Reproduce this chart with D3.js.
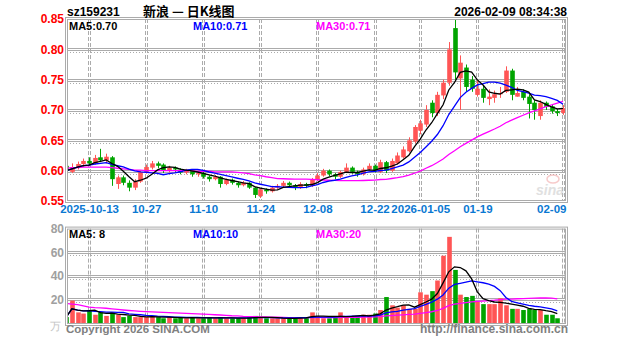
<!DOCTYPE html>
<html>
<head>
<meta charset="utf-8">
<script src="https://cdn.jsdelivr.net/npm/d3@7"></script>
<style>
  body { margin: 0; background: #fff; }
  svg { display: block; }
  text { font-family: "Liberation Sans", Arial, sans-serif; }
</style>
</head>
<body>
<svg id="chart" width="627" height="342"></svg>
<script>
// Trading days shown in the daily K-line window
const dates = [
  "2025-09-29","2025-09-30","2025-10-09","2025-10-10",
  "2025-10-13","2025-10-14","2025-10-15","2025-10-16","2025-10-17",
  "2025-10-20","2025-10-21","2025-10-22","2025-10-23","2025-10-24",
  "2025-10-27","2025-10-28","2025-10-29","2025-10-30","2025-10-31",
  "2025-11-03","2025-11-04","2025-11-05","2025-11-06","2025-11-07",
  "2025-11-10","2025-11-11","2025-11-12","2025-11-13","2025-11-14",
  "2025-11-17","2025-11-18","2025-11-19","2025-11-20","2025-11-21",
  "2025-11-24","2025-11-25","2025-11-26","2025-11-27","2025-11-28",
  "2025-12-01","2025-12-02","2025-12-03","2025-12-04","2025-12-05",
  "2025-12-08","2025-12-09","2025-12-10","2025-12-11","2025-12-12",
  "2025-12-15","2025-12-16","2025-12-17","2025-12-18","2025-12-19",
  "2025-12-22","2025-12-23","2025-12-24","2025-12-25","2025-12-26",
  "2025-12-29","2025-12-30","2025-12-31",
  "2026-01-05","2026-01-06","2026-01-07","2026-01-08","2026-01-09",
  "2026-01-12","2026-01-13","2026-01-14","2026-01-15","2026-01-16",
  "2026-01-19","2026-01-20","2026-01-21","2026-01-22","2026-01-23",
  "2026-01-26","2026-01-27","2026-01-28","2026-01-29","2026-01-30",
  "2026-02-02","2026-02-03","2026-02-04","2026-02-05","2026-02-06",
  "2026-02-09"
];

const opens = [
  0.608,0.598,0.606,0.611,
  0.616,0.612,0.622,0.617,0.622,
  0.578,0.589,0.580,0.572,0.582,
  0.598,0.605,0.612,0.610,0.600,
  0.605,0.602,0.597,0.600,0.594,
  0.596,0.590,0.586,0.590,0.578,
  0.585,0.580,0.576,0.580,0.572,
  0.558,0.569,0.566,0.572,0.575,
  0.580,0.576,0.572,0.578,0.575,
  0.585,0.592,0.600,0.594,0.590,
  0.598,0.605,0.598,0.594,0.602,
  0.608,0.598,0.614,0.600,0.612,
  0.622,0.632,0.648,
  0.666,0.676,0.712,0.695,0.724,
  0.745,0.835,0.752,0.770,0.750,
  0.725,0.735,0.718,0.720,0.726,
  0.730,0.765,0.722,0.730,0.722,
  0.712,0.690,0.712,0.706,0.698,
  0.695
];
const highs = [
  0.610,0.612,0.615,0.620,
  0.622,0.626,0.636,0.628,0.624,
  0.592,0.592,0.584,0.586,0.600,
  0.610,0.616,0.615,0.612,0.608,
  0.607,0.604,0.603,0.601,0.599,
  0.598,0.592,0.593,0.591,0.587,
  0.587,0.582,0.583,0.581,0.573,
  0.571,0.571,0.575,0.578,0.583,
  0.582,0.578,0.581,0.580,0.588,
  0.596,0.603,0.602,0.596,0.600,
  0.612,0.607,0.600,0.605,0.612,
  0.610,0.618,0.616,0.620,0.630,
  0.640,0.655,0.675,
  0.684,0.708,0.716,0.730,0.750,
  0.812,0.850,0.790,0.775,0.756,
  0.748,0.740,0.734,0.732,0.738,
  0.772,0.768,0.738,0.734,0.726,
  0.716,0.716,0.714,0.709,0.702,
  0.708
];
const lows = [
  0.598,0.596,0.602,0.606,
  0.608,0.610,0.614,0.612,0.575,
  0.570,0.576,0.566,0.568,0.580,
  0.595,0.602,0.604,0.596,0.597,
  0.598,0.594,0.594,0.590,0.590,
  0.587,0.582,0.584,0.572,0.576,
  0.577,0.572,0.574,0.570,0.555,
  0.555,0.562,0.564,0.570,0.573,
  0.573,0.568,0.570,0.571,0.573,
  0.583,0.590,0.591,0.586,0.588,
  0.596,0.595,0.590,0.592,0.600,
  0.597,0.596,0.596,0.598,0.610,
  0.620,0.630,0.645,
  0.660,0.672,0.688,0.690,0.718,
  0.740,0.750,0.700,0.730,0.730,
  0.722,0.712,0.708,0.712,0.720,
  0.728,0.716,0.722,0.716,0.686,
  0.684,0.684,0.700,0.694,0.690,
  0.692
];
const closes = [
  0.600,0.606,0.611,0.616,
  0.612,0.621,0.617,0.623,0.586,
  0.589,0.580,0.572,0.582,0.598,
  0.606,0.612,0.608,0.600,0.605,
  0.602,0.597,0.600,0.594,0.596,
  0.590,0.586,0.590,0.578,0.585,
  0.580,0.576,0.580,0.572,0.560,
  0.569,0.566,0.572,0.575,0.580,
  0.576,0.572,0.578,0.575,0.585,
  0.592,0.600,0.594,0.590,0.598,
  0.605,0.598,0.594,0.602,0.608,
  0.600,0.614,0.600,0.616,0.625,
  0.635,0.650,0.672,
  0.678,0.700,0.695,0.725,0.745,
  0.800,0.762,0.778,0.738,0.735,
  0.735,0.720,0.722,0.726,0.728,
  0.765,0.725,0.728,0.720,0.710,
  0.700,0.712,0.705,0.698,0.695,
  0.703
];
// Daily volume (ten-thousand lots)
const volumes = [
  5,19,9,8,
  11,7,9,6,9,
  7,5,6,5,5,
  5,6,5,4,5,
  4,5,4,5,4,
  4,5,4,5,4,
  4,4,4,5,6,
  5,4,4,4,4,
  4,4,5,5,9,
  6,4,4,5,9,
  5,5,6,7,7,
  8,11,22,15,13,
  15,12,12,
  26,24,27,36,57,
  73,45,24,22,23,
  18,16,16,16,21,
  15,12,12,11,12,
  11,11,7,7,4
];
// MA30 levels for the first days, before a full 30-day window is on screen
const priceMa30Lead = [
  0.604,0.605,0.605,0.606,0.606,0.606,0.606,0.606,0.605,0.604,
  0.603,0.602,0.601,0.601,0.600,0.600,0.600,0.600,0.600,0.600,
  0.600,0.600,0.600,0.599,0.599,0.599,0.598,0.598,0.598
];
const volMa30Lead = [
  16.5,16,15.5,14.5,13.5,13,12.8,12.5,12,11.5,
  11,10.6,10.2,9.9,9.6,9.4,9.2,9.0,8.8,8.6,
  8.4,8.2,8.0,7.8,7.6,7.3,7.0,6.8,6.5
];

const priceTicks = [0.55,0.60,0.65,0.70,0.75,0.80,0.85];
const volTicks = [20,40,60,80];
const dateTicks = ["2025-10-13","2025-10-27","2025-11-10","2025-11-24","2025-12-08",
                   "2025-12-22","2026-01-05","2026-01-19","2026-02-09"];
const dateTickLabels = ["2025-10-13","10-27","11-10","11-24","12-08",
                        "12-22","2026-01-05","01-19","02-09"];

const symbol = "sz159231";
const titleText = "新浪 — 日K线图";
const stamp = "2026-02-09 08:34:38";

const UP = "#ff5555", DOWN = "#00a400", GRID = "#ababab";
const MA_COLORS = { 5: "#000000", 10: "#0000ff", 30: "#ff00ff" };

const svg = d3.select("#chart");
const L = 67, R = 566;
const pTop = 19, pBot = 201, vTop = 228.6, vBot = 323;

const x = d3.scalePoint().domain(dates).range([66.2, 563]);
const y = d3.scaleLinear().domain([0.55, 0.85]).range([pBot, pTop]);
const yv = d3.scaleLinear().domain([0, 80]).range([vBot, vTop]);

function movingAvg(vals, n, lead) {
  return vals.map((_, i) => {
    if (i < n - 1) return lead ? lead[i] : d3.mean(vals.slice(0, i + 1));
    return d3.mean(vals.slice(i - n + 1, i + 1));
  });
}

const defs = svg.append("defs");
defs.append("clipPath").attr("id", "clipP").append("rect")
  .attr("x", L + 1).attr("y", pTop + 1).attr("width", R - L - 2).attr("height", pBot - pTop - 2);
defs.append("clipPath").attr("id", "clipV").append("rect")
  .attr("x", L + 1).attr("y", vTop).attr("width", R - L - 2).attr("height", vBot - vTop);

// ---------- grids ----------
function hGrid(values, scale) {
  const g = svg.append("g");
  values.forEach(v => {
    const yy = Math.round(scale(v));
    g.append("line").attr("x1", L).attr("x2", R).attr("y1", yy - 0.5).attr("y2", yy - 0.5)
      .attr("stroke", GRID).attr("stroke-width", 1);
    g.append("line").attr("x1", L).attr("x2", R).attr("y1", yy + 1.5).attr("y2", yy + 1.5)
      .attr("stroke", GRID).attr("stroke-width", 1);
    g.append("line").attr("x1", L).attr("x2", R).attr("y1", yy + 3.5).attr("y2", yy + 3.5)
      .attr("stroke", GRID).attr("stroke-width", 1).attr("stroke-dasharray", "1,2");
  });
}
hGrid([0.60, 0.65, 0.70, 0.75, 0.80], y);
hGrid([20, 40, 60], yv);

function vGrid(y0, y1) {
  const g = svg.append("g");
  dateTicks.forEach(d => {
    const xx = Math.round(x(d));
    [-1, 1].forEach(off => {
      g.append("line").attr("x1", xx + off + 0.5).attr("x2", xx + off + 0.5)
        .attr("y1", y0).attr("y2", y1)
        .attr("stroke", GRID).attr("stroke-width", 1).attr("stroke-dasharray", "4,2");
    });
  });
}
vGrid(pTop, pBot);
vGrid(vTop, vBot);

// ---------- frames ----------
function frame(y0, y1) {
  svg.append("rect").attr("x", L - 1.5).attr("y", y0 - 1.5)
    .attr("width", R - L + 3).attr("height", y1 - y0 + 3)
    .attr("fill", "none").attr("stroke", GRID).attr("stroke-width", 1);
  svg.append("rect").attr("x", L + 0.5).attr("y", y0 + 0.5)
    .attr("width", R - L - 1).attr("height", y1 - y0 - 1)
    .attr("fill", "none").attr("stroke", GRID).attr("stroke-width", 1);
}
frame(pTop, pBot);
frame(vTop, vBot + 1);

// ---------- watermark ----------
const wm = svg.append("g").attr("opacity", 0.55);
wm.append("ellipse").attr("cx", 553).attr("cy", 179).attr("rx", 6).attr("ry", 4)
  .attr("fill", "none").attr("stroke", "#f2a0a0").attr("stroke-width", 1.5);
wm.append("text").attr("x", 550).attr("y", 195).attr("text-anchor", "middle")
  .attr("font-size", 14).attr("font-weight", "bold").attr("font-style", "italic")
  .attr("fill", "#c8c8c8").text("sina");

// ---------- candles ----------
const data = dates.map((d, i) => ({
  d, o: opens[i], h: highs[i], l: lows[i], c: closes[i], v: volumes[i]
}));
const bw = 4.6;
const candles = svg.append("g").attr("clip-path", "url(#clipP)")
  .selectAll("g").data(data).join("g");
candles.append("line")
  .attr("x1", d => Math.round(x(d.d)) + 0.5).attr("x2", d => Math.round(x(d.d)) + 0.5)
  .attr("y1", d => y(d.h)).attr("y2", d => y(d.l))
  .attr("stroke", d => d.c >= d.o ? UP : DOWN).attr("stroke-width", 1);
candles.append("rect")
  .attr("x", d => Math.round(x(d.d)) + 0.5 - bw / 2)
  .attr("width", bw)
  .attr("y", d => y(Math.max(d.o, d.c)))
  .attr("height", d => Math.max(1, Math.abs(y(d.o) - y(d.c))))
  .attr("fill", d => d.c >= d.o ? UP : DOWN);

// ---------- volume bars ----------
svg.append("g").attr("clip-path", "url(#clipV)")
  .selectAll("rect").data(data).join("rect")
  .attr("x", d => Math.round(x(d.d)) + 0.5 - bw / 2)
  .attr("width", bw)
  .attr("y", d => yv(d.v))
  .attr("height", d => yv(0) - yv(d.v))
  .attr("fill", d => d.c >= d.o ? UP : DOWN);

// ---------- moving averages ----------
const pMA = {
  5: movingAvg(closes, 5),
  10: movingAvg(closes, 10),
  30: movingAvg(closes, 30, priceMa30Lead)
};
const vMA = {
  5: movingAvg(volumes, 5),
  10: movingAvg(volumes, 10),
  30: movingAvg(volumes, 30, volMa30Lead)
};
function drawMA(series, scale, clip) {
  const g = svg.append("g").attr("clip-path", clip);
  [30, 10, 5].forEach(n => {
    const line = d3.line().x((_, i) => x(dates[i])).y(v => scale(v));
    g.append("path").attr("d", line(series[n]))
      .attr("fill", "none").attr("stroke", MA_COLORS[n]).attr("stroke-width", 1.3);
  });
}
drawMA(pMA, y, "url(#clipP)");
drawMA(vMA, yv, "url(#clipV)");

// ---------- axes ----------
const fmtP = d3.format(".2f");
const yAxis = svg.append("g").attr("transform", `translate(${L - 3},0)`)
  .call(d3.axisLeft(y).tickValues(priceTicks).tickFormat(fmtP).tickSize(0).tickPadding(0));
yAxis.select(".domain").remove();
yAxis.selectAll("text").attr("fill", "#ff0000").attr("font-size", 12).attr("font-weight", "bold")
  .style("font-family", "'Liberation Sans', Arial, sans-serif");

const vAxis = svg.append("g").attr("transform", `translate(${L - 3},0)`)
  .call(d3.axisLeft(yv).tickValues(volTicks).tickSize(0).tickPadding(0));
vAxis.select(".domain").remove();
vAxis.selectAll("text").attr("fill", "#a0a0a0").attr("font-size", 12).attr("font-weight", "bold")
  .style("font-family", "'Liberation Sans', Arial, sans-serif");
svg.append("text").attr("x", 61).attr("y", 330).attr("text-anchor", "end")
  .attr("font-size", 11).attr("fill", "#c4c4c4").text("万");

const labelOf = new Map(dateTicks.map((d, i) => [d, dateTickLabels[i]]));
const xAxis = svg.append("g").attr("transform", `translate(0,${pBot + 2})`)
  .call(d3.axisBottom(x).tickValues(dateTicks).tickFormat(d => labelOf.get(d)).tickSize(0).tickPadding(2));
xAxis.select(".domain").remove();
xAxis.selectAll("text").attr("fill", "#0a78d2").attr("font-size", 11.5).attr("font-weight", "bold")
  .style("font-family", "'Liberation Sans', Arial, sans-serif")
  .attr("text-anchor", (d, i) => i === dateTicks.length - 1 ? "end" : "middle")
  .attr("dx", (d, i) => i === dateTicks.length - 1 ? 3 : 0);

// ---------- headers ----------
svg.append("text").attr("x", 67).attr("y", 16).attr("font-size", 12)
  .attr("font-weight", "bold").attr("fill", "#000").text(symbol);
svg.append("text").attr("x", 143).attr("y", 15.5).attr("font-size", 13)
  .attr("font-weight", "bold").attr("fill", "#000")
  .style("font-family", "'Noto Sans CJK SC', sans-serif").text(titleText);
svg.append("text").attr("x", 567).attr("y", 16).attr("text-anchor", "end")
  .attr("font-size", 12).attr("font-weight", "bold").attr("fill", "#000").text(stamp);

function maLegend(series, yy, fmt) {
  const xs = { 5: 69, 10: 193, 30: 316 };
  [5, 10, 30].forEach(n => {
    const last = series[n][series[n].length - 1];
    svg.append("text").attr("x", xs[n]).attr("y", yy).attr("font-size", 11)
      .attr("font-weight", "bold").attr("fill", MA_COLORS[n])
      .attr("xml:space", "preserve")
      .text(`MA${n}:${fmt(last)}`);
  });
}
maLegend(pMA, 29.5, fmtP);
maLegend(vMA, 238, v => d3.format("2d")(Math.round(v)));

// ---------- footer ----------
svg.append("text").attr("x", 66).attr("y", 333).attr("font-size", 11.5)
  .attr("fill", "#808080").attr("font-weight", "bold").text("Copyright 2026 SINA.COM");
svg.append("text").attr("x", 568).attr("y", 333).attr("text-anchor", "end").attr("font-size", 12)
  .attr("fill", "#808080").attr("font-weight", "bold").text("http://finance.sina.com.cn");
</script>
</body>
</html>
